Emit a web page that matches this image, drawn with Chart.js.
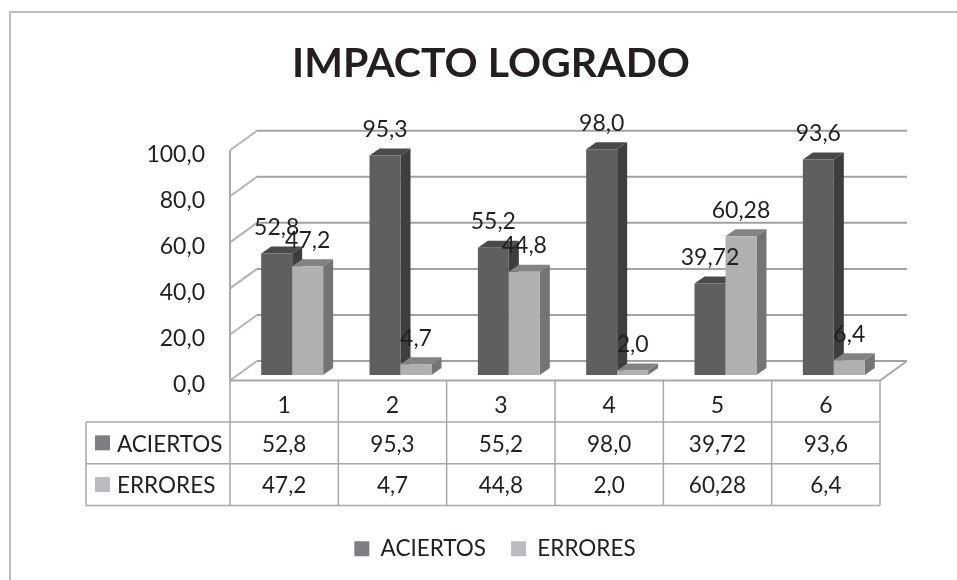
<!DOCTYPE html>
<html>
<head>
<meta charset="utf-8">
<title>Impacto logrado</title>
<style>
html, body { margin: 0; background: #fff; overflow: hidden; }
canvas { display: block; }
</style>
</head>
<body>
<canvas id="chart-impacto" width="957" height="580"></canvas>
<script src="https://cdn.jsdelivr.net/npm/chart.js@4"></script>
<script>
const categories = ['1', '2', '3', '4', '5', '6'];
const seriesNames = ['ACIERTOS', 'ERRORES'];
const aciertos = [52.8, 95.3, 55.2, 98.0, 39.72, 93.6];
const errores = [47.2, 4.7, 44.8, 2.0, 60.28, 6.4];
const seriesValues = [aciertos, errores];

const keyColors = ['#7f7f83', '#bbbcc0'];
const frontColors = ['#5f5f5f', '#b0b0b0'];
const topColors = ['#4a4a4a', '#838383'];
const sideColors = ['#3e3e3e', '#747474'];
const textColor = '#231f20';
const fontName = 'Lato, "Open Sans", sans-serif';

// offsets of the fake 3D box
const wallDx = 27, wallDy = -19.5;
const barDx = 8, barDy = -5.5;
const depthDx = 10, depthDy = -7;

function fmt(v) {
    const s = String(v);
    return (s.includes('.') ? s : s + '.0').replace('.', ',');
}

function face(c, color, pts) {
    c.fillStyle = color;
    c.beginPath();
    pts.forEach((p, i) => i ? c.lineTo(p[0], p[1]) : c.moveTo(p[0], p[1]));
    c.closePath();
    c.fill();
}

function line(c, color, width, pts) {
    c.strokeStyle = color;
    c.lineWidth = width;
    c.beginPath();
    pts.forEach((p, i) => i ? c.lineTo(p[0], p[1]) : c.moveTo(p[0], p[1]));
    c.stroke();
}

const box3d = {
    id: 'box3d',
    afterLayout(chart) {
        // legend sits a little right of the title in the original
        chart.legend.left += 4;
        chart.legend.right += 4;
    },
    beforeDatasetsDraw(chart) {
        const c = chart.ctx;
        const a = chart.chartArea;
        const y = chart.scales.y;

        c.save();
        // outer frame
        line(c, '#bdbdbd', 2, [[10, 580], [10, 12], [957, 12]]);

        // walls and floor
        y.ticks.forEach(t => {
            const py = y.getPixelForValue(t.value);
            line(c, '#b4b4b4', 2, [[a.left, py], [a.left + wallDx, py + wallDy]]);
            line(c, '#a2a2a2', 2, [[a.left + wallDx, py + wallDy], [a.right + wallDx, py + wallDy]]);
        });
        line(c, '#a8a8a8', 2, [[a.left, a.top], [a.left, a.bottom], [a.right, a.bottom], [a.right + wallDx, a.bottom + wallDy]]);

        // bars, faces first. done by hand so ERRORES stays on top of ACIERTOS
        c.translate(barDx, barDy);
        seriesValues.forEach((vals, d) => {
            const meta = chart.getDatasetMeta(d);
            meta.data.forEach(b => {
                const l = b.x - b.width / 2, r = b.x + b.width / 2;
                face(c, topColors[d], [[l, b.y], [l + depthDx, b.y + depthDy], [r + depthDx, b.y + depthDy], [r, b.y]]);
                face(c, sideColors[d], [[r, b.y], [r + depthDx, b.y + depthDy], [r + depthDx, b.base + depthDy], [r, b.base]]);
            });
            meta.controller.draw();
        });
        c.restore();

        // value labels
        c.save();
        c.font = '23px ' + fontName;
        c.fillStyle = textColor;
        c.textAlign = 'center';
        c.textBaseline = 'middle';
        seriesValues.forEach((vals, d) => {
            chart.getDatasetMeta(d).data.forEach((b, i) => {
                c.fillText(fmt(vals[i]), b.x + barDx, b.y + barDy - 26);
            });
        });
        c.restore();
        return false;
    },
    afterDraw(chart) {
        // data table under the axis
        const c = chart.ctx;
        const a = chart.chartArea;
        const step = (a.right - a.left) / categories.length;
        const tableLeft = 86, rowTop = 422, rowH = 41.7;
        const bottom = rowTop + rowH * seriesValues.length;

        c.save();
        for (let i = 0; i <= categories.length; i++) {
            line(c, '#a9a9ab', 1.5, [[a.left + i * step, a.bottom], [a.left + i * step, bottom]]);
        }
        for (let r = 0; r <= seriesValues.length; r++) {
            line(c, '#a9a9ab', 1.5, [[tableLeft, rowTop + r * rowH], [a.right, rowTop + r * rowH]]);
        }
        line(c, '#a9a9ab', 1.5, [[tableLeft, rowTop], [tableLeft, bottom]]);

        c.font = '22.5px ' + fontName;
        c.fillStyle = textColor;
        c.textBaseline = 'middle';
        seriesValues.forEach((vals, r) => {
            const my = rowTop + (r + 0.5) * rowH + 1.5;
            c.fillStyle = keyColors[r];
            c.fillRect(95, my - 9, 15, 15);
            c.fillStyle = textColor;
            c.textAlign = 'left';
            c.fillText(seriesNames[r], 117, my);
            c.textAlign = 'center';
            vals.forEach((v, i) => c.fillText(fmt(v), chart.scales.x.getPixelForTick(i), my));
        });
        c.restore();
    }
};

new Chart(document.getElementById('chart-impacto'), {
    type: 'bar',
    data: {
        labels: categories,
        datasets: seriesNames.map((name, d) => ({
            label: name,
            data: seriesValues[d],
            backgroundColor: frontColors[d],
            categoryPercentage: 0.572,
            barPercentage: 1
        }))
    },
    options: {
        responsive: false,
        animation: false,
        events: [],
        layout: { padding: { left: 102, right: 77, bottom: 10 } },
        scales: {
            x: {
                grid: { display: false },
                border: { display: false },
                ticks: { color: textColor, font: { family: fontName, size: 23 }, padding: 3, maxRotation: 0 },
                afterFit(s) { s.height = 132; }
            },
            y: {
                min: 0,
                max: 100,
                grid: { display: false },
                border: { display: false },
                ticks: {
                    stepSize: 20,
                    color: textColor,
                    font: { family: fontName, size: 23 },
                    padding: 17,
                    labelOffset: 4,
                    callback: v => fmt(v)
                },
                afterFit(s) { s.width = 128; }
            }
        },
        plugins: {
            title: {
                display: true,
                text: 'IMPACTO LOGRADO',
                color: textColor,
                font: { family: fontName, size: 41, weight: 'bold', lineHeight: 1.2 },
                padding: { top: 39, bottom: 62 }
            },
            legend: {
                position: 'bottom',
                labels: {
                    color: textColor,
                    font: { family: fontName, size: 22.5 },
                    boxWidth: 15,
                    boxHeight: 15,
                    padding: 25,
                    generateLabels(chart) {
                        return Chart.defaults.plugins.legend.labels.generateLabels(chart).map((l, i) => ({
                            ...l, fillStyle: keyColors[i], strokeStyle: keyColors[i], lineWidth: 0
                        }));
                    }
                }
            },
            tooltip: { enabled: false }
        }
    },
    plugins: [box3d]
});
</script>
</body>
</html>
